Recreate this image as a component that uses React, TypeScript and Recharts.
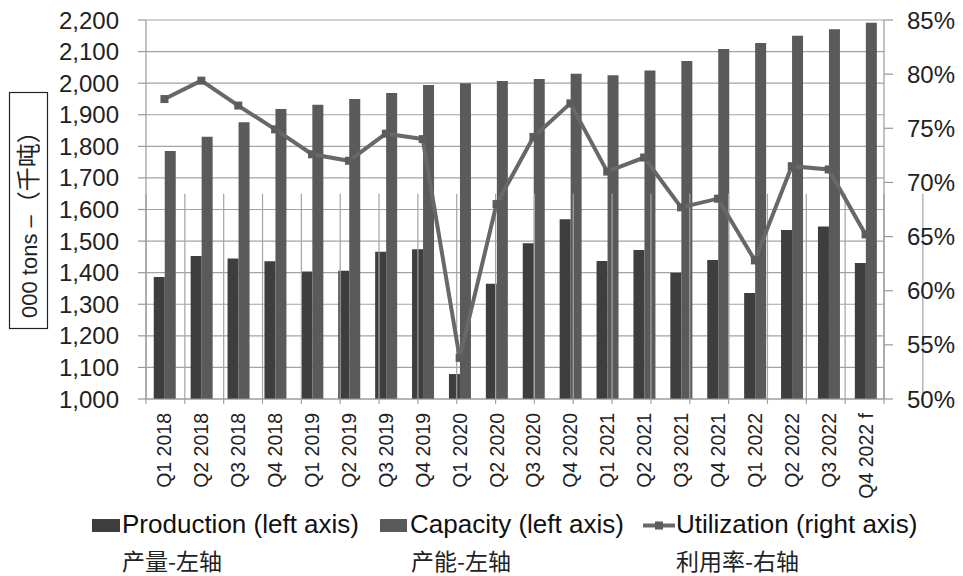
import React from "react";
import {
  ComposedChart,
  Bar,
  Line,
  XAxis,
  YAxis,
  CartesianGrid,
  ReferenceLine,
} from "recharts";

// Quarterly categories
const quarters = [
  "Q1 2018", "Q2 2018", "Q3 2018", "Q4 2018",
  "Q1 2019", "Q2 2019", "Q3 2019", "Q4 2019",
  "Q1 2020", "Q2 2020", "Q3 2020", "Q4 2020",
  "Q1 2021", "Q2 2021", "Q3 2021", "Q4 2021",
  "Q1 2022", "Q2 2022", "Q3 2022", "Q4 2022 f",
];

// Production, 000 tons (left axis)
const production = [
  1386, 1453, 1445, 1436,
  1404, 1406, 1466, 1474,
  1079, 1365, 1493, 1569,
  1437, 1472, 1400, 1440,
  1336, 1535, 1546, 1431,
];

// Capacity, 000 tons (left axis)
const capacity = [
  1785, 1830, 1876, 1918,
  1932, 1950, 1969, 1994,
  2000, 2007, 2013, 2030,
  2025, 2040, 2070, 2108,
  2127, 2150, 2171, 2191,
];

// Utilization rate, % (right axis)
const utilization = [
  77.7, 79.4, 77.1, 74.9,
  72.6, 72.0, 74.5, 74.0,
  53.8, 68.0, 74.2, 77.3,
  71.0, 72.3, 67.7, 68.5,
  62.8, 71.5, 71.2, 65.2,
];

const leftTicks = [1000, 1100, 1200, 1300, 1400, 1500, 1600, 1700, 1800, 1900, 2000, 2100, 2200];
const rightTicks = [50, 55, 60, 65, 70, 75, 80, 85];

// Category boundaries on a 0..N scale, used for the between-category grid and ticks
const boundaries = quarters.map((_, i) => i).concat([quarters.length]);

const rows = quarters.map((quarter, i) => ({
  quarter,
  production: production[i],
  capacity: capacity[i],
  utilization: utilization[i],
}));

const FONT = '"Liberation Sans", Arial, sans-serif';
const CJK = '"Noto Sans CJK SC", "Noto Sans", sans-serif';
const GRID = "#a3a3a3";
const PROD = "#3e3e3e";
const CAP = "#5a5a5a";
const UTIL = "#686868";

const QuarterTick = (props: any) => {
  const { x, y, payload } = props;
  return (
    <text
      x={x}
      y={y}
      transform={`rotate(-90, ${x}, ${y})`}
      textAnchor="end"
      dy="0.36em"
      fontSize={19.5}
      fontFamily={FONT}
      fill="#222"
    >
      {payload.value}
    </text>
  );
};

const SquareDot = (props: any) => {
  const { cx, cy, index } = props;
  if (cx == null || cy == null) return <g key={`d${index}`} />;
  return <rect key={`d${index}`} x={cx - 4} y={cy - 4} width={8} height={8} fill="#5c5c5c" />;
};

const fmtThousands = (v: number) => v.toLocaleString("en-US");
const fmtPct = (v: number) => `${v}%`;

export default function App() {
  return (
    <div style={{ position: "absolute", left: 0, top: 0, width: 963, height: 576, background: "#fff" }}>
      <ComposedChart
        width={963}
        height={576}
        data={rows}
        margin={{ top: 20, right: 0, bottom: 0, left: 0 }}
        barCategoryGap="21%"
        barGap={0}
      >
        <CartesianGrid vertical={false} stroke={GRID} strokeWidth={1.2} />
        <XAxis
          dataKey="quarter"
          height={177}
          interval={0}
          tick={<QuarterTick />}
          tickLine={false}
          tickSize={0}
          tickMargin={14}
          axisLine={{ stroke: "#999", strokeWidth: 1.2 }}
        />
        <XAxis xAxisId="grid" type="number" domain={[0, quarters.length]} hide />
        <YAxis
          width={146}
          domain={[1000, 2200]}
          ticks={leftTicks}
          tickFormatter={fmtThousands}
          interval={0}
          tickSize={8}
          tickMargin={19}
          tick={{ fontSize: 24, fontFamily: FONT, fill: "#222" }}
          tickLine={{ stroke: "#999", strokeWidth: 1.2 }}
          axisLine={{ stroke: "#999", strokeWidth: 1.2 }}
        />
        <YAxis
          yAxisId="right"
          orientation="right"
          width={79}
          domain={[50, 85]}
          ticks={rightTicks}
          tickFormatter={fmtPct}
          interval={0}
          tickSize={9}
          tickMargin={14}
          tick={{ fontSize: 24, fontFamily: FONT, fill: "#222" }}
          tickLine={{ stroke: "#999", strokeWidth: 1.2 }}
          axisLine={{ stroke: "#999", strokeWidth: 1.2 }}
        />
        {boundaries.map((b) => (
          <ReferenceLine
            key={`vb${b}`}
            xAxisId="grid"
            segment={[
              { x: b, y: 984 },
              { x: b, y: 1650 },
            ]}
            stroke={GRID}
            strokeWidth={1.2}
            ifOverflow="visible"
          />
        ))}
        <Bar dataKey="production" fill={PROD} isAnimationActive={false} />
        <Bar dataKey="capacity" fill={CAP} isAnimationActive={false} />
        <Line
          yAxisId="right"
          dataKey="utilization"
          stroke={UTIL}
          strokeWidth={4}
          dot={<SquareDot />}
          activeDot={false}
          isAnimationActive={false}
        />
      </ComposedChart>

      <svg width={963} height={576} style={{ position: "absolute", left: 0, top: 0, pointerEvents: "none" }}>
        {/* left-axis unit label */}
        <rect x={9.5} y={92.5} width={38} height={236} fill="#fff" stroke="#222" strokeWidth={1.2} />
        <text
          x={29}
          y={318}
          transform="rotate(-90, 29, 318)"
          dy="0.36em"
          fontSize={22}
          fill="#222"
          fontFamily={FONT}
        >
          000 tons –
          <tspan fontFamily={CJK} fontSize={24}>（千吨）</tspan>
        </text>

        {/* legend */}
        <rect x={92} y={519} width={28} height={13} fill={PROD} />
        <text x={122} y={533} fontSize={26} fontFamily={FONT} fill="#111">Production (left axis)</text>
        <text x={122} y={570} fontSize={23} fontFamily={CJK} fill="#222">产量-左轴</text>

        <rect x={380} y={519} width={27} height={13} fill={CAP} />
        <text x={410} y={533} fontSize={26} fontFamily={FONT} fill="#111">Capacity (left axis)</text>
        <text x={411} y={570} fontSize={23} fontFamily={CJK} fill="#222">产能-左轴</text>

        <line x1={643} y1={525.5} x2={675} y2={525.5} stroke={UTIL} strokeWidth={4} />
        <rect x={655} y={521.5} width={8} height={8} fill="#5c5c5c" />
        <text x={676} y={533} fontSize={26} fontFamily={FONT} fill="#111">Utilization (right axis)</text>
        <text x={676} y={570} fontSize={23} fontFamily={CJK} fill="#222">利用率-右轴</text>
      </svg>
    </div>
  );
}
